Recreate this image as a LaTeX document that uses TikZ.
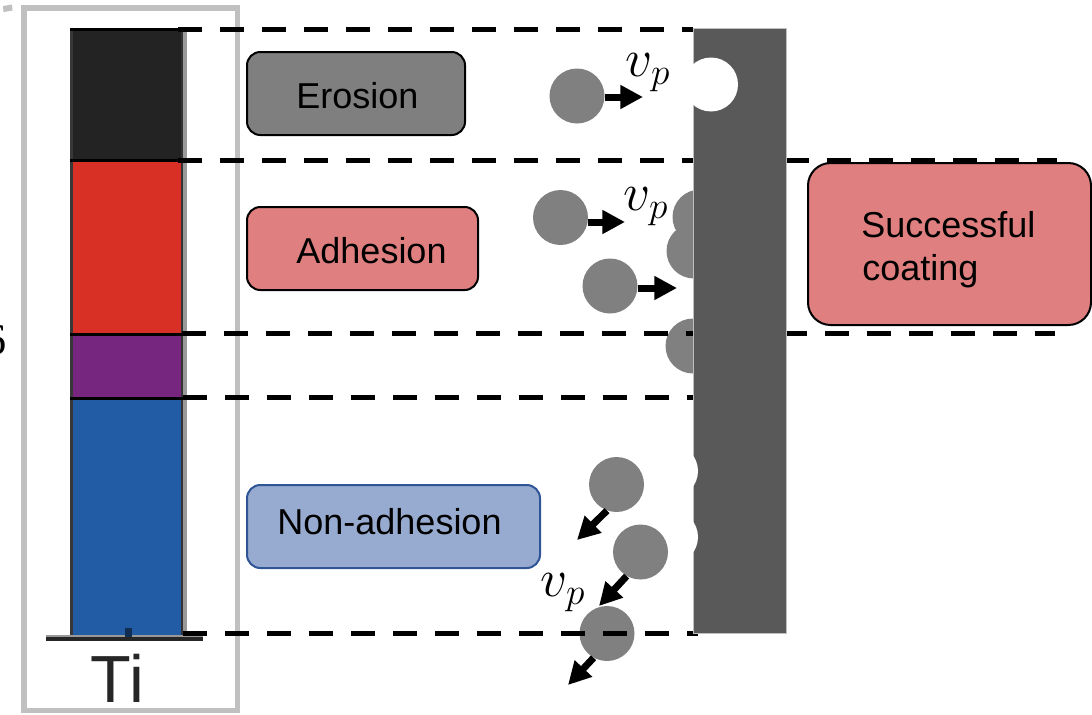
\RequirePackage{fix-cm}
\documentclass[tikz,border=0pt]{standalone}
\usepackage{fontspec}
\setmainfont{Liberation Sans}
\newfontfamily\serifsix{Liberation Serif}
\usetikzlibrary{arrows.meta}
\definecolor{framegray}{HTML}{C0C0C0}
\definecolor{barblack}{HTML}{232323}
\definecolor{barred}{HTML}{D93026}
\definecolor{barpurple}{HTML}{76267E}
\definecolor{barblue}{HTML}{215CA4}
\definecolor{pgray}{HTML}{808080}
\definecolor{subgray}{HTML}{595959}
\definecolor{pinkc}{HTML}{DF7F7F}
\definecolor{boxgray}{HTML}{7F7F7F}
\definecolor{nablue}{HTML}{97AACF}
\definecolor{nablueborder}{HTML}{2F5597}
\begin{document}
\begin{tikzpicture}[x=0.75pt,y=-0.75pt,
  particle/.style={circle,fill=pgray,inner sep=0pt,minimum size=41.25pt},
  vel/.style={line width=5.25pt,-{Triangle[length=17pt,width=17pt]}},
  sepline/.style={line width=3.75pt,dash pattern=on 18pt off 13.5pt},
  box/.style={rounded corners=10pt,draw=black,line width=1.5pt,inner sep=0pt},
  lbl/.style={inner sep=0pt,font=\fontsize{27pt}{32pt}\selectfont},
  vp/.style={inner sep=0pt,font=\fontsize{40pt}{40pt}\selectfont}]
\useasboundingbox (0,0) rectangle (1092,714);
% frame and fragments
\draw[framegray,line width=4pt] (24,8) rectangle (237.5,710.5);
\fill[framegray] (3,6) -- (12,4.5) -- (12.5,10.5) -- (3.5,12) -- cycle;
\node[font=\serifsix\fontsize{33pt}{33pt}\selectfont,anchor=east,inner sep=0pt] (six) at (7,340) {6};
% bar
\fill[barblack] (71,27.5) rectangle (183,160);
\fill[barred] (71,160) rectangle (183,334);
\fill[barpurple] (71,334) rectangle (183,398.5);
\fill[barblue] (71,398.5) rectangle (183,638);
\draw[black!78,line width=2.25pt] (71,27.5) -- (71,638);
\draw[black!80,line width=1.5pt] (182,27.5) -- (182,638);
\draw[black!40,line width=2.5pt] (185,27.5) -- (185,638);
\foreach \yy in {29,160,334,398.5} \draw[black,line width=2.25pt] (69.5,\yy) -- (183,\yy);
\draw[black!40,line width=1.5pt] (46,636) -- (203,636);
\draw[black!85,line width=2.5pt] (46,639) -- (203,639);
\fill[black!50!barblue] (125,628) rectangle (132,637);
\node[font=\fontsize{50pt}{50pt}\selectfont,text=black!85,anchor=base,inner sep=0pt] (ti) at (117.5,702) {Ti};
% particles
\node[particle] (a1) at (700,217) {};
\node[particle] (a2) at (694,251) {};
\node[particle] (a3) at (693,346) {};
\node[particle] (e1) at (577,96) {};
\node[particle] (p1) at (560.5,217.5) {};
\node[particle] (p2) at (610,286) {};
\node[particle] (nA) at (616.5,484.5) {};
\node[particle] (nB) at (640.5,552) {};
\node[particle] (nC) at (607,633.5) {};
% dashed separators
\draw[sepline] (178,29) -- (693,29);
\draw[sepline] (178,160.5) -- (693,160.5);
\draw[sepline] (785,160.5) -- (1057,160.5);
\draw[sepline] (182,333.5) -- (697,333.5);
\draw[sepline] (783,333.5) -- (1055,333.5);
\draw[sepline] (183,397) -- (697,397);
\draw[sepline] (183,633) -- (698,633);
% substrate
\path[fill=subgray,draw=black!25,line width=0.75pt] (693,28) rectangle (786,633);
\begin{scope}
\clip (693,27) rectangle (787,634);
\fill[white] (711,84.5) circle[radius=20.25pt];
\fill[white] (671,471) circle[radius=20.25pt];
\fill[white] (671,537) circle[radius=20.25pt];
\end{scope}
% velocity arrows
\coordinate (te) at (643,97);
\draw[vel] (e1.east |- te) -- (te);
\coordinate (t1) at (625,222);
\draw[vel] (p1.east |- t1) -- (t1);
\coordinate (t2) at (677,288);
\draw[vel] (p2.east |- t2) -- (t2);
\coordinate (tA) at (577,540);
\draw[vel] (nA.250) -- (tA);
\coordinate (tB) at (599,606);
\draw[vel] (nB.240) -- (tB);
\coordinate (tC) at (568,685);
\draw[vel] (nC.241) -- (tC);
\node[vp] (v1) at (648,73) {$v_p$};
\node[vp] (v2) at (646,207) {$v_p$};
\node[vp] (v3) at (563,593) {$v_p$};
% boxes
\node[box,fill=boxgray,minimum width=163.5pt,minimum height=62.25pt] (ero) at (356,93.5) {};
\node[lbl,anchor=base] (erot) at (357.5,108) {Erosion};
\node[box,fill=pinkc,minimum width=173.25pt,minimum height=62.25pt] (adh) at (362.5,248.5) {};
\node[lbl,anchor=base] (adht) at (371.5,263) {Adhesion};
\node[box,fill=nablue,draw=nablueborder,minimum width=219.75pt,minimum height=62.25pt] (nad) at (393.5,526.5) {};
\node[lbl,anchor=base] (nadt) at (389.5,534) {Non-adhesion};
\node[box,fill=pinkc,rounded corners=17pt,minimum width=212.25pt,minimum height=121.5pt] (sc) at (949.5,244) {};
\node[lbl,anchor=base west] (sct1) at (861,237) {Successful};
\node[lbl,anchor=base west] (sct2) at (862,280) {coating};
\end{tikzpicture}
\end{document}
